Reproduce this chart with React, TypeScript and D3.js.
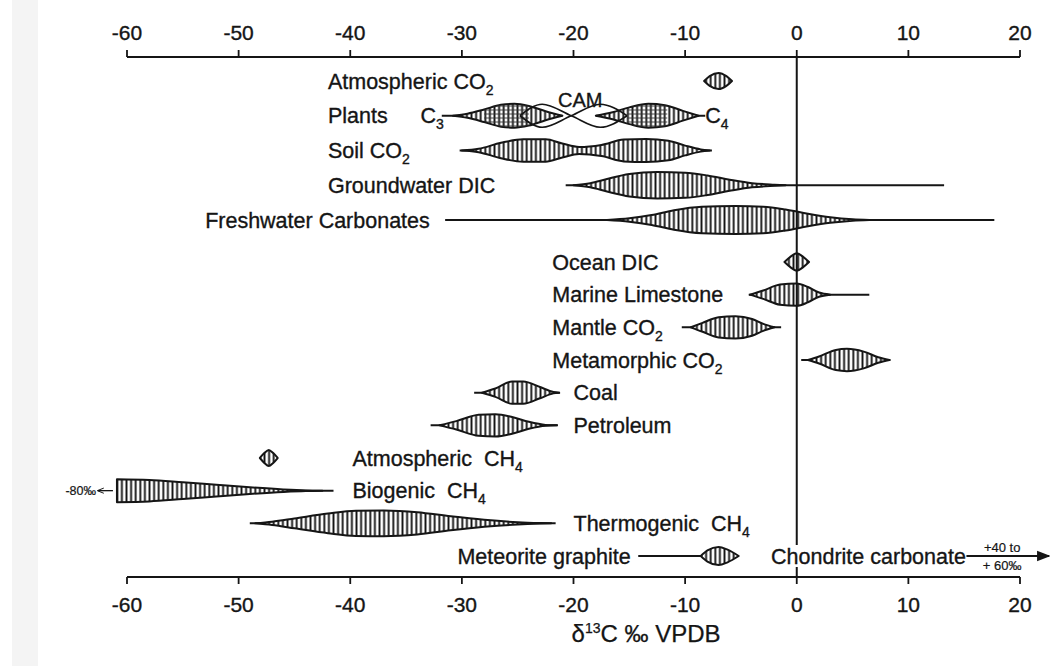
import React from "react";
import * as d3 from "d3";

const W = 1051;
const H = 666;

// axis
const tickValues = [-60, -50, -40, -30, -20, -10, 0, 10, 20];
const xDomain: [number, number] = [-60, 20];

// rows (top to bottom)
const rowMain = [
  "Atmospheric CO", "Plants", "Soil CO", "Groundwater DIC", "Freshwater Carbonates",
  "Ocean DIC", "Marine Limestone", "Mantle CO", "Metamorphic CO", "Coal", "Petroleum",
  "Atmospheric  CH", "Biogenic  CH", "Thermogenic  CH", "Meteorite graphite",
];
const rowSub = ["2", "", "2", "", "", "", "", "2", "2", "", "", "4", "4", "4", ""];
const rowLabelX = [-42, -42, -42, -42, -53, -21.9, -21.9, -21.9, -21.9, -20, -20, -39.8, -39.8, -20, -30.4];

// profiles: [δ13C value, relative frequency 0..1]
const atmCO2: [number, number][] = [[-8.3, 0], [-7.8, 0.35], [-7, 0.58], [-6.3, 0.35], [-5.8, 0]];
const plantsC3: [number, number][] = [[-30.8, 0], [-29.5, 0.15], [-28, 0.45], [-26.5, 0.78], [-25.3, 0.85], [-24, 0.7], [-22.5, 0.32], [-21, 0]];
const plantsC4: [number, number][] = [[-18, 0], [-16.5, 0.25], [-15, 0.6], [-13.3, 0.85], [-11.8, 0.75], [-10.2, 0.35], [-8.8, 0]];
const plantsCAM: [number, number][] = [[-24.8, 0], [-22.8, 0.82], [-20.2, 0], [-17.6, -0.82], [-15.2, 0]];
const soilCO2: [number, number][] = [[-30, 0], [-28.5, 0.12], [-26.5, 0.55], [-24.5, 0.8], [-22.5, 0.8], [-21, 0.5], [-19.5, 0.25], [-17.5, 0.4], [-15.5, 0.78], [-13.5, 0.83], [-11.5, 0.7], [-10, 0.35], [-8.6, 0.08], [-7.8, 0]];
const groundwater: [number, number][] = [[-20, 0], [-18.5, 0.15], [-17, 0.45], [-15, 0.8], [-12.5, 0.95], [-10, 0.9], [-8, 0.7], [-6, 0.4], [-4, 0.15], [-2, 0.04], [-1, 0]];
const freshwater: [number, number][] = [[-17, 0], [-15, 0.12], [-13, 0.35], [-11, 0.7], [-8.5, 0.95], [-5.5, 1], [-3, 0.95], [-1, 0.75], [1, 0.45], [3, 0.2], [5, 0.05], [6.5, 0]];
const oceanDIC: [number, number][] = [[-1.1, 0], [-0.6, 0.35], [0, 0.62], [0.6, 0.35], [1.1, 0]];
const marineLimestone: [number, number][] = [[-4.2, 0], [-3, 0.3], [-1.5, 0.72], [0, 0.8], [1, 0.55], [2, 0.15], [3, 0]];
const mantleCO2: [number, number][] = [[-9.5, 0], [-8.5, 0.3], [-7, 0.72], [-5.5, 0.8], [-4, 0.6], [-3, 0.25], [-2, 0]];
const metamorphicCO2: [number, number][] = [[1, 0], [2, 0.25], [3.5, 0.72], [4.5, 0.8], [6, 0.6], [7.3, 0.2], [8.3, 0]];
const coal: [number, number][] = [[-28.2, 0], [-27, 0.3], [-25.5, 0.8], [-24.5, 0.8], [-23, 0.4], [-21.8, 0.05], [-21.3, 0]];
const petroleum: [number, number][] = [[-32, 0], [-30.5, 0.3], [-28.5, 0.75], [-27, 0.8], [-25.5, 0.6], [-24, 0.25], [-22.5, 0.03], [-21.5, 0]];
const atmCH4: [number, number][] = [[-48.1, 0], [-47.7, 0.35], [-47.3, 0.58], [-46.9, 0.35], [-46.5, 0]];
const biogenicCH4: [number, number][] = [[-60.9, 0.82], [-58, 0.77], [-55, 0.6], [-52, 0.42], [-49, 0.24], [-46, 0.09], [-44, 0.02], [-42.5, 0]];
const thermogenicCH4: [number, number][] = [[-48.5, 0], [-47, 0.12], [-45, 0.35], [-42, 0.7], [-39.5, 0.9], [-37, 0.92], [-34, 0.8], [-31, 0.5], [-28, 0.25], [-25, 0.08], [-23, 0.02], [-22, 0]];
const meteorite: [number, number][] = [[-8.6, 0], [-8, 0.4], [-7, 0.65], [-6.2, 0.45], [-5.2, 0]];

// marks: row index, profile, tail line extent
const marks: { row: number; profile: [number, number][]; tail: [number, number] | null }[] = [
  { row: 0, profile: atmCO2, tail: null },
  { row: 1, profile: plantsC3, tail: [-31.8, -21] },
  { row: 1, profile: plantsC4, tail: [-18, -8.2] },
  { row: 2, profile: soilCO2, tail: [-30.2, -7.6] },
  { row: 3, profile: groundwater, tail: [-20.7, 13.2] },
  { row: 4, profile: freshwater, tail: [-31.5, 17.7] },
  { row: 5, profile: oceanDIC, tail: null },
  { row: 6, profile: marineLimestone, tail: [-4.3, 6.5] },
  { row: 7, profile: mantleCO2, tail: [-10.3, -1.4] },
  { row: 8, profile: metamorphicCO2, tail: [0.4, 8.4] },
  { row: 9, profile: coal, tail: [-28.9, -21.2] },
  { row: 10, profile: petroleum, tail: [-32.8, -21.4] },
  { row: 11, profile: atmCH4, tail: null },
  { row: 12, profile: biogenicCH4, tail: [-60.9, -41.5] },
  { row: 13, profile: thermogenicCH4, tail: [-49, -21.6] },
  { row: 14, profile: meteorite, tail: [-14.2, -5.2] },
];

// CAM cross-hatched overlaps
const camOverlapC3: [number, number] = [-28, -24];
const camOverlapC4: [number, number] = [-15.2, -11.6];

const FONT = "'Liberation Sans', Arial, Helvetica, sans-serif";
const INK = "#151515";

export default function App() {
  const x = d3.scaleLinear().domain(xDomain).range([127, 1020]);
  const rowY = d3.scaleLinear().domain([0, 4, 5, 14]).range([81, 220, 262, 556]);
  const thick = d3.scaleLinear().domain([0, 1]).range([0, 14]);
  const topY = 57;
  const botY = 577;

  const lens = (p: [number, number][], cy: number) =>
    d3
      .area<[number, number]>()
      .x((d) => x(d[0]))
      .y0((d) => cy + thick(d[1]))
      .y1((d) => cy - thick(d[1]))
      .curve(d3.curveMonotoneX)(p) as string;

  const camLine = (sign: number, cy: number) =>
    d3
      .line<[number, number]>()
      .x((d) => x(d[0]))
      .y((d) => cy - sign * thick(d[1]))
      .curve(d3.curveMonotoneX)(plantsCAM) as string;

  const plantsY = rowY(1);
  const c3Path = lens(plantsC3, plantsY);
  const c4Path = lens(plantsC4, plantsY);
  const meteorY = rowY(14);
  const bioY = rowY(12);

  const textStyle = { stroke: INK, strokeWidth: 0.35, fill: INK } as const;

  return (
    <svg
      width={W}
      height={H}
      viewBox={`0 0 ${W} ${H}`}
      style={{ position: "absolute", left: 0, top: 0, background: "#fff" }}
      fontFamily={FONT}
    >
      <defs>
        <pattern id="vh" width="4.6" height="10" patternUnits="userSpaceOnUse">
          <line x1="2.3" y1="0" x2="2.3" y2="10" stroke={INK} strokeWidth="1.9" />
        </pattern>
        <pattern id="hh" width="10" height="4" patternUnits="userSpaceOnUse">
          <line x1="0" y1="2" x2="10" y2="2" stroke="#333" strokeWidth="0.9" />
        </pattern>
        <clipPath id="clipC3">
          <rect x={x(camOverlapC3[0])} y={plantsY - 20} width={x(camOverlapC3[1]) - x(camOverlapC3[0])} height={40} />
        </clipPath>
        <clipPath id="clipC4">
          <rect x={x(camOverlapC4[0])} y={plantsY - 20} width={x(camOverlapC4[1]) - x(camOverlapC4[0])} height={40} />
        </clipPath>
        <marker id="arr" viewBox="0 0 10 10" refX="9" refY="5" markerWidth="7" markerHeight="7" orient="auto">
          <path d="M0,1 L10,5 L0,9 Z" fill={INK} />
        </marker>
        <marker id="arrSmall" viewBox="0 0 10 10" refX="9" refY="5" markerWidth="5" markerHeight="5" orient="auto">
          <path d="M0,1 L10,5 L0,9" fill="none" stroke={INK} strokeWidth="1.5" />
        </marker>
      </defs>

      <rect x={0} y={0} width={W} height={H} fill="#fff" />
      <rect x={12} y={0} width={26} height={H} fill="#f4f4f4" />

      {/* top axis */}
      <line x1={x(-60)} x2={x(20)} y1={topY} y2={topY} stroke={INK} strokeWidth={2.2} />
      {tickValues.map((t) => (
        <g key={"tt" + t}>
          <line x1={x(t)} x2={x(t)} y1={topY} y2={topY - 7} stroke={INK} strokeWidth={1.8} />
          <text x={x(t)} y={40} textAnchor="middle" fontSize={21} {...textStyle}>
            {t}
          </text>
        </g>
      ))}

      {/* bottom axis */}
      <line x1={x(-60)} x2={x(20)} y1={botY} y2={botY} stroke={INK} strokeWidth={2.2} />
      {tickValues.map((t) => (
        <g key={"bt" + t}>
          <line x1={x(t)} x2={x(t)} y1={botY} y2={botY + 7} stroke={INK} strokeWidth={1.8} />
          <text x={x(t)} y={612} textAnchor="middle" fontSize={21} {...textStyle}>
            {t}
          </text>
        </g>
      ))}
      <text x={x(-13.5)} y={642} textAnchor="middle" fontSize={24} {...textStyle} strokeWidth={0.25}>
        δ<tspan dy={-9} fontSize={14}>13</tspan>
        <tspan dy={9}>C ‰ VPDB</tspan>
      </text>

      {/* tails */}
      {marks.map((m, i) =>
        m.tail ? (
          <line
            key={"tail" + i}
            x1={x(m.tail[0])}
            x2={x(m.tail[1])}
            y1={rowY(m.row)}
            y2={rowY(m.row)}
            stroke={INK}
            strokeWidth={2}
          />
        ) : null
      )}

      {/* lenses */}
      {marks.map((m, i) => {
        const d = lens(m.profile, rowY(m.row));
        return (
          <g key={"lens" + i}>
            <path d={d} fill="#fff" />
            <path d={d} fill="url(#vh)" stroke={INK} strokeWidth={2} strokeLinejoin="round" />
          </g>
        );
      })}

      {/* CAM overlap cross-hatching and CAM ribbon */}
      <path d={c3Path} fill="url(#hh)" clipPath="url(#clipC3)" />
      <path d={c4Path} fill="url(#hh)" clipPath="url(#clipC4)" />
      <path d={camLine(1, plantsY)} fill="none" stroke={INK} strokeWidth={1.7} />
      <path d={camLine(-1, plantsY)} fill="none" stroke={INK} strokeWidth={1.7} />

      {/* zero line */}
      <line x1={x(0)} x2={x(0)} y1={topY} y2={545} stroke={INK} strokeWidth={2} />
      <line x1={x(0)} x2={x(0)} y1={567} y2={botY} stroke={INK} strokeWidth={2} />

      {/* row labels */}
      {rowMain.map((name, i) => (
        <text key={"lab" + i} x={x(rowLabelX[i])} y={rowY(i) + 7.5} fontSize={21.5} {...textStyle} xmlSpace="preserve">
          {name}
          {rowSub[i] ? (
            <tspan dy={6} fontSize={14}>
              {rowSub[i]}
            </tspan>
          ) : null}
        </text>
      ))}

      {/* plants sub-labels */}
      <text x={x(-33.7)} y={plantsY + 7.5} fontSize={21.5} {...textStyle}>
        C<tspan dy={6} fontSize={14}>3</tspan>
      </text>
      <text x={x(-8.2)} y={plantsY + 7.5} fontSize={21.5} {...textStyle}>
        C<tspan dy={6} fontSize={14}>4</tspan>
      </text>
      <text x={x(-19.4)} y={plantsY - 9} textAnchor="middle" fontSize={20} {...textStyle}>
        CAM
      </text>

      {/* biogenic CH4 off-scale note */}
      <line x1={x(-60.9) - 4} x2={x(-60.9) - 19} y1={bioY} y2={bioY} stroke={INK} strokeWidth={1.3} markerEnd="url(#arrSmall)" />
      <text x={x(-60.9) - 21} y={bioY + 4.5} textAnchor="end" fontSize={12.5} {...textStyle} strokeWidth={0.2}>
        -80‰
      </text>

      {/* chondrite carbonate */}
      <text x={x(-2.3)} y={meteorY + 7.5} fontSize={21.5} {...textStyle}>
        Chondrite carbonate
      </text>
      <line x1={x(15.2)} x2={x(22.6)} y1={meteorY} y2={meteorY} stroke={INK} strokeWidth={1.9} markerEnd="url(#arr)" />
      <text x={x(18.4)} y={meteorY - 4} textAnchor="middle" fontSize={13} {...textStyle} strokeWidth={0.2}>
        +40 to
      </text>
      <text x={x(18.4)} y={meteorY + 14} textAnchor="middle" fontSize={13} {...textStyle} strokeWidth={0.2}>
        + 60‰
      </text>
    </svg>
  );
}
